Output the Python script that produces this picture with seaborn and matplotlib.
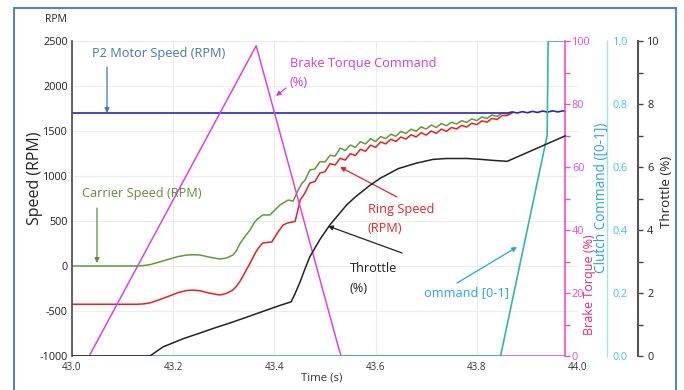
import matplotlib
matplotlib.use("Agg")
import matplotlib.pyplot as plt
from matplotlib.patches import Rectangle
from matplotlib.ticker import MultipleLocator
import seaborn as sns

# ---------------- data ----------------
motor_t = [43.0, 43.86, 43.87, 43.88, 43.89, 43.90, 43.91, 43.92, 43.93, 43.94, 43.95, 43.96, 43.97, 43.975]
motor_rpm = [1700, 1700, 1712, 1700, 1715, 1703, 1718, 1706, 1722, 1710, 1724, 1712, 1724, 1718]

carrier_t = [43.0, 43.128, 43.14, 43.154, 43.17, 43.194, 43.21, 43.227, 43.24, 43.253, 43.27, 43.292,
             43.305, 43.318, 43.325, 43.332, 43.342, 43.352, 43.36, 43.366,
             43.377, 43.391, 43.411, 43.427, 43.437, 43.447, 43.455,
             43.46, 43.47, 43.48, 43.49, 43.50, 43.51, 43.52, 43.53, 43.54, 43.55, 43.56, 43.57,
             43.58, 43.59, 43.60, 43.61, 43.62, 43.63, 43.64, 43.65, 43.66, 43.67, 43.68, 43.69,
             43.70, 43.71, 43.72, 43.73, 43.74, 43.75, 43.76, 43.77, 43.78, 43.79, 43.80, 43.81,
             43.82, 43.83, 43.84, 43.85, 43.86, 43.87]
carrier_rpm = [0, 0, 4, 15, 40, 80, 105, 122, 125, 122, 100, 78,
               88, 122, 170, 250, 330, 400, 480, 520,
               567, 567, 678, 733, 722, 844, 925,
               948, 1066, 1078, 1160, 1155, 1230, 1222, 1311, 1283, 1344, 1318, 1382,
               1356, 1414, 1383, 1438, 1415, 1464, 1442, 1496, 1472, 1520, 1497, 1546,
               1522, 1566, 1538, 1584, 1558, 1598, 1578, 1614, 1596, 1634, 1616, 1656,
               1640, 1678, 1662, 1700, 1689, 1702]

ring_t = [43.0, 43.128, 43.14, 43.154, 43.17, 43.194, 43.21, 43.227, 43.24, 43.253, 43.27, 43.292,
          43.305, 43.318, 43.325, 43.332, 43.342, 43.352, 43.36, 43.366, 43.372,
          43.377, 43.386, 43.395, 43.405, 43.417, 43.426, 43.435, 43.441, 43.451,
          43.46, 43.47, 43.48, 43.49, 43.50, 43.51, 43.52, 43.53, 43.54, 43.55, 43.56, 43.57,
          43.58, 43.59, 43.60, 43.61, 43.62, 43.63, 43.64, 43.65, 43.66, 43.67, 43.68, 43.69,
          43.70, 43.71, 43.72, 43.73, 43.74, 43.75, 43.76, 43.77, 43.78, 43.79, 43.80, 43.81,
          43.82, 43.83, 43.84, 43.85, 43.86, 43.87]
ring_rpm = [-425, -425, -422, -410, -380, -330, -295, -272, -268, -275, -300, -322,
            -305, -267, -225, -170, -70, 33, 120, 180, 225,
            255, 262, 267, 360, 455, 478, 489, 495, 733,
            808, 922, 938, 1033, 1048, 1137, 1123, 1197, 1178, 1247, 1228, 1297,
            1275, 1342, 1318, 1378, 1357, 1408, 1384, 1433, 1410, 1458, 1434, 1481,
            1455, 1500, 1474, 1521, 1497, 1539, 1523, 1562, 1544, 1586, 1571, 1612,
            1598, 1640, 1628, 1672, 1672, 1700]

brake_t = [43.0, 43.034, 43.364, 43.527, 43.532, 43.975]
brake_pct = [0, 0, 98.5, 2.5, 0, 0]

clutch_t = [43.0, 43.847, 43.939, 43.941, 43.975]
clutch_cmd = [0, 0, 0.70, 1.0, 1.0]

throttle_t = [43.0, 43.154, 43.18, 43.20, 43.22, 43.253, 43.28, 43.318, 43.35, 43.385, 43.41, 43.433,
              43.44, 43.451, 43.46, 43.47, 43.49, 43.51, 43.53, 43.543, 43.56, 43.589, 43.61,
              43.645, 43.68, 43.713, 43.74, 43.781, 43.81, 43.832, 43.86, 43.975]
throttle_pct = [0, 0, 0.29, 0.42, 0.55, 0.73, 0.88, 1.08, 1.26, 1.46, 1.6, 1.72,
                1.95, 2.36, 2.75, 3.15, 3.7, 4.17, 4.55, 4.8, 5.05, 5.42, 5.65,
                5.95, 6.12, 6.24, 6.27, 6.27, 6.24, 6.21, 6.18, 6.99]

speed_ticks = [-1000, -500, 0, 500, 1000, 1500, 2000, 2500]
time_ticks = [43.0, 43.2, 43.4, 43.6, 43.8, 44.0]
brake_ticks = [0, 20, 40, 60, 80, 100]
clutch_ticks = [0.0, 0.2, 0.4, 0.6, 0.8, 1.0]
throttle_ticks = [0, 2, 4, 6, 8, 10]

# ---------------- styling ----------------
sns.set_theme(style="white")
FONT = ["Open Sans", "DejaVu Sans"]
plt.rcParams["font.family"] = FONT

W, H = 684, 390
fig = plt.figure(figsize=(W / 100, H / 100), dpi=100)
ax = fig.add_axes([72 / W, 34 / H, 506 / W, 315 / H])


def fpx(x, y):
    """image pixel (top-left origin) -> figure pixels"""
    return (x, H - y)


def ffr(x, y):
    """image pixel (top-left origin) -> figure fraction"""
    return (x / W, (H - y) / H)


C_MOTOR = "#2424cf"
C_CARRIER = "#5c9e33"
C_RING = "#ee1d1d"
C_BRAKE = "#e040e4"
C_CLUTCH = "#2db7ad"
C_THR = "#222222"

# host axis (speed)
ax.set_xlim(43.0, 44.0)
ax.set_ylim(-1000, 2500)
ax.grid(True, color="#ececec", lw=0.8)
ax.set_xticks(time_ticks)
ax.set_xticklabels([f"{v:.1f}" for v in time_ticks])
ax.set_yticks(speed_ticks)
ax.set_yticklabels([str(v) for v in speed_ticks])
ax.tick_params(axis="y", length=0, pad=3, labelsize=7.8, colors="#222222")
ax.tick_params(axis="x", length=0, pad=4, labelsize=7.0, colors="#333333")
for s in ["top", "right", "bottom"]:
    ax.spines[s].set_visible(False)
ax.spines["left"].set_color("#555555")
ax.spines["left"].set_linewidth(1.3)

sns.lineplot(x=carrier_t, y=carrier_rpm, ax=ax, color=C_CARRIER, lw=1.1, sort=False, estimator=None)
sns.lineplot(x=ring_t, y=ring_rpm, ax=ax, color=C_RING, lw=1.1, sort=False, estimator=None)
sns.lineplot(x=motor_t, y=motor_rpm, ax=ax, color=C_MOTOR, lw=1.2, sort=False, estimator=None)
ax.set_xlabel("")
ax.set_ylabel("")

# brake torque axis
axb = ax.twinx()
axb.set_ylim(0, 100)
sns.lineplot(x=brake_t, y=brake_pct, ax=axb, color=C_BRAKE, lw=1.1, sort=False, estimator=None)
axb.spines["right"].set_position(("axes", (565 - 72) / 506))
for s in ["top", "left", "bottom"]:
    axb.spines[s].set_visible(False)
axb.spines["right"].set_color("#f04ccf")
axb.spines["right"].set_linewidth(1.2)
axb.set_yticks(brake_ticks)
axb.yaxis.set_minor_locator(MultipleLocator(10))
axb.tick_params(axis="y", which="both", length=3.5, width=1.0, color="#f04ccf", pad=1.5,
                labelsize=7.8, labelcolor="#f04ccf")
axb.set_ylabel("")
axb.grid(False)

# clutch axis
axc = ax.twinx()
axc.set_ylim(0, 1)
sns.lineplot(x=clutch_t, y=clutch_cmd, ax=axc, color=C_CLUTCH, lw=1.2, sort=False, estimator=None)
axc.spines["right"].set_position(("axes", (607 - 72) / 506))
for s in ["top", "left", "bottom"]:
    axc.spines[s].set_visible(False)
axc.spines["right"].set_color("#9fe4ea")
axc.spines["right"].set_linewidth(1.0)
axc.set_yticks(clutch_ticks)
axc.set_yticklabels([f"{v:.1f}" for v in clutch_ticks])
axc.tick_params(axis="y", length=0, pad=4, labelsize=7.8, labelcolor="#3cc4ef")
axc.set_ylabel("")
axc.grid(False)

# throttle axis
axt = ax.twinx()
axt.set_ylim(0, 10)
sns.lineplot(x=throttle_t, y=throttle_pct, ax=axt, color=C_THR, lw=1.1, sort=False, estimator=None)
axt.spines["right"].set_position(("axes", (638 - 72) / 506))
for s in ["top", "left", "bottom"]:
    axt.spines[s].set_visible(False)
axt.spines["right"].set_color("#555555")
axt.spines["right"].set_linewidth(1.5)
axt.set_yticks(throttle_ticks)
axt.yaxis.set_minor_locator(MultipleLocator(1))
axt.tick_params(axis="y", which="both", length=3.5, width=1.0, color="#444444", pad=3,
                labelsize=7.8, labelcolor="#222222")
axt.set_ylabel("")
axt.grid(False)

# ---------------- axis titles ----------------
fig.text(*ffr(35, 178), "Speed (RPM)", rotation=90, ha="center", va="center", fontsize=11.5, color="#222222")
fig.text(*ffr(56, 20), "RPM", ha="center", va="center", fontsize=7.5, color="#222222")
fig.text(*ffr(322, 378), "Time (s)", ha="center", va="center", fontsize=8.2, color="#333333")
fig.text(*ffr(589.5, 285), "Brake Torque (%)", rotation=90, ha="center", va="center", fontsize=9.0, color="#e8287a")
fig.text(*ffr(601, 198), "Clutch Command ([0-1])", rotation=90, ha="center", va="center", fontsize=9.8, color="#27a6de")
fig.text(*ffr(667, 192), "Throttle (%)", rotation=90, ha="center", va="center", fontsize=9.6, color="#222222")

# ---------------- annotations ----------------
ANN = 9.2


def note(x, y, s, color):
    fig.text(*ffr(x, y), s, ha="left", va="center", fontsize=ANN, color=color)


def arrow(tail, tip, color):
    ax.annotate("", xy=fpx(*tip), xycoords="figure pixels", xytext=fpx(*tail), textcoords="figure pixels",
                arrowprops=dict(arrowstyle="-|>", color=color, lw=0.9, mutation_scale=7, shrinkA=0, shrinkB=0),
                annotation_clip=False)


note(92, 53, "P2 Motor Speed (RPM)", "#4472c4")
arrow((107, 67), (107, 113), "#4472c4")

note(290, 64, "Brake Torque Command", "#d63ad6")
note(290, 82, "(%)", "#d63ad6")
arrow((286, 88), (276, 96), "#d63ad6")

note(82, 194, "Carrier Speed (RPM)", "#5a8f3a")
arrow((97, 208), (97, 263), "#5a8f3a")

note(368, 209, "Ring Speed", "#ee2222")
note(368, 228, "(RPM)", "#ee2222")
arrow((397, 197), (340, 167), "#ee2222")

note(350, 268, "Throttle", "#222222")
note(350, 288, "(%)", "#222222")
arrow((402, 253), (328, 226), "#222222")

note(424, 293, "ommand [0-1]", "#1fa8e0")
arrow((457, 283), (517, 247), "#1fa8e0")

# frame around the figure
fig.add_artist(Rectangle((14 / W, -0.05), (676 - 14) / W, (H - 8) / H + 0.05, transform=fig.transFigure,
                         fill=False, edgecolor="#4a7fd8", lw=1.4))

fig.savefig("out.png", dpi=100)
